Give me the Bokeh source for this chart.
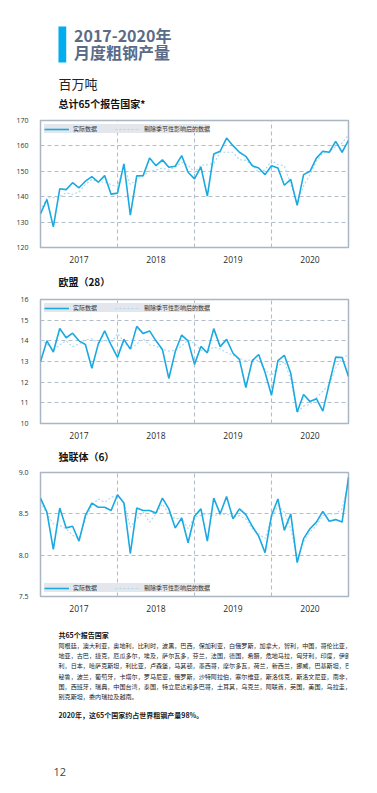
from bokeh.plotting import figure
from bokeh.models import (Range1d, FixedTicker, Label, Legend, LegendItem,
                          BoxAnnotation, PrintfTickFormatter)
from bokeh.layouts import column
from bokeh.embed import file_html
from bokeh.resources import INLINE

# ---------------- data ----------------
years = ["2017", "2018", "2019", "2020"]
legend_labels = ["实际数据", "剔除季节性影响后的数据"]

total_actual = [133.3, 138.9, 128.1, 143.1, 142.8, 145.5, 143.5, 146.1, 147.9, 145.7,
                148.3, 141.0, 141.4, 152.9, 132.7, 148.2, 148.3, 155.2, 152.2, 154.5,
                151.6, 152.0, 156.2, 149.6, 147.0, 151.7, 140.2, 156.8, 157.9, 163.1,
                160.1, 157.5, 155.9, 152.2, 151.3, 148.7, 152.2, 151.3, 144.5, 146.8,
                136.6, 148.7, 150.0, 155.2, 157.9, 157.5, 161.8, 157.5, 162.2]
total_sa = [134.5, 139.6, 139.6, 140.2, 141.5, 141.0, 141.8, 144.8, 146.8, 145.8,
            145.8, 144.7, 144.0, 152.0, 144.8, 146.9, 148.2, 150.0, 150.5, 151.3,
            150.5, 151.6, 153.5, 152.5, 149.5, 152.3, 152.6, 153.0, 157.5, 157.5,
            157.5, 154.6, 154.3, 152.4, 149.6, 150.6, 154.2, 152.6, 152.2, 144.8,
            137.6, 144.2, 148.7, 154.0, 157.2, 157.6, 159.8, 161.1, 164.4]

eu_actual = [13.0, 14.0, 13.46, 14.6, 14.15, 14.37, 14.0, 13.82, 12.67, 13.84,
             14.48, 13.8, 13.2, 14.07, 13.6, 14.7, 14.35, 14.48, 14.0, 13.58,
             12.18, 13.48, 14.28, 14.0, 12.86, 13.73, 13.42, 14.59, 13.72, 14.07,
             13.4, 13.1, 11.74, 13.04, 13.34, 12.47, 11.37, 13.04, 13.3, 12.43,
             10.56, 11.4, 11.06, 11.2, 10.6, 11.93, 13.21, 13.19, 12.28]
eu_sa = [14.04, 13.85, 13.58, 13.8, 14.0, 13.72, 13.85, 14.04, 14.1, 13.9,
         14.04, 13.88, 14.36, 13.95, 13.6, 13.85, 14.1, 13.8, 13.75, 13.6,
         13.5, 13.55, 13.75, 14.04, 13.87, 13.55, 13.48, 13.7, 13.6, 13.43,
         13.3, 13.15, 13.05, 13.08, 13.05, 12.6, 12.3, 12.76, 13.0, 12.12,
         10.52, 10.84, 10.92, 11.25, 11.56, 11.88, 12.68, 13.16, 13.32]

cis_actual = [8.69, 8.52, 8.07, 8.57, 8.33, 8.35, 8.17, 8.48, 8.63, 8.58,
              8.58, 8.54, 8.73, 8.63, 8.02, 8.57, 8.54, 8.54, 8.51, 8.69,
              8.56, 8.33, 8.45, 8.15, 8.47, 8.56, 8.17, 8.69, 8.5, 8.71,
              8.44, 8.56, 8.49, 8.35, 8.23, 8.03, 8.48, 8.68, 8.3, 8.5,
              7.91, 8.2, 8.32, 8.4, 8.53, 8.41, 8.43, 8.4, 8.94]
cis_sa = [8.64, 8.5, 8.38, 8.36, 8.32, 8.24, 8.2, 8.44, 8.6, 8.68,
          8.64, 8.7, 8.72, 8.64, 8.34, 8.44, 8.52, 8.4, 8.5, 8.62,
          8.5, 8.44, 8.45, 8.32, 8.46, 8.48, 8.5, 8.48, 8.49, 8.5,
          8.46, 8.48, 8.44, 8.32, 8.26, 8.2, 8.44, 8.6, 8.52, 8.32,
          7.96, 8.16, 8.28, 8.36, 8.48, 8.5, 8.5, 8.56, 8.88]

# ---------------- style ----------------
W = 377
CJK = "Noto Sans CJK SC"
NUM = "Open Sans"
AC_C = "#1aa9e1"
SA_C = "#a9d8f1"
GRID_C = "#b3bdca"
TITLE_C = "#5b6b87"


def text_fig(height):
    p = figure(width=W, height=height, x_range=Range1d(0, W), y_range=Range1d(height, 0),
               output_backend="svg", toolbar_location=None,
               x_axis_location=None, y_axis_location=None, min_border=0)
    p.grid.visible = False
    p.outline_line_color = None
    return p


def lab(p, x, y, text, size, bold=False, color="#222222", font=CJK):
    p.add_layout(Label(x=x, y=y, text=text, text_font=font, text_font_size=size,
                       text_font_style="bold" if bold else "normal",
                       text_color=color, text_baseline="middle", text_align="left"))


def chart(actual, sa, y0, y1, step, fmt, loc, height, top, bottom):
    n = len(actual)
    x = list(range(n))
    p = figure(width=W, height=height, x_range=Range1d(0, n - 1), y_range=Range1d(y0, y1),
               output_backend="svg", toolbar_location=None,
               min_border_left=40, min_border_right=29,
               min_border_top=top, min_border_bottom=bottom)
    r_sa = p.line(x, sa, line_color=SA_C, line_width=1.1, line_dash="2 2")
    r_ac = p.line(x, actual, line_color=AC_C, line_width=1.6)

    p.outline_line_color = "#aab6c4"
    p.outline_line_width = 1.5

    yt = []
    v = y0
    while v <= y1 + 1e-9:
        yt.append(round(v, 2))
        v += step
    p.yaxis.ticker = FixedTicker(ticks=yt)
    p.yaxis.formatter = PrintfTickFormatter(format=fmt)
    p.yaxis.axis_line_color = None
    p.yaxis.major_tick_line_color = None
    p.yaxis.minor_tick_line_color = None
    p.yaxis.major_label_standoff = 6
    p.yaxis.major_label_text_font = NUM
    p.yaxis.major_label_text_font_size = "7px"
    p.yaxis.major_label_text_color = "#333333"

    centers = [12 * k + 6 for k in range(len(years))]
    p.xaxis.ticker = FixedTicker(ticks=centers)
    p.xaxis.major_label_overrides = {c: y for c, y in zip(centers, years)}
    p.xaxis.axis_line_color = None
    p.xaxis.major_tick_line_color = None
    p.xaxis.minor_tick_line_color = None
    p.xaxis.major_label_standoff = 2
    p.xaxis.major_label_text_font = NUM
    p.xaxis.major_label_text_font_size = "8.5px"
    p.xaxis.major_label_text_color = "#2a2a2a"

    p.xgrid.ticker = FixedTicker(ticks=[12 * k for k in range(1, len(years))])
    for g in (p.xgrid, p.ygrid):
        g.grid_line_color = GRID_C
        g.grid_line_dash = "4 3"
        g.grid_line_width = 1.1

    leg = Legend(items=[LegendItem(label=legend_labels[0], renderers=[r_ac]),
                        LegendItem(label=legend_labels[1], renderers=[r_sa])],
                 location=loc, orientation="horizontal", margin=4, padding=2,
                 spacing=18, glyph_width=25, glyph_height=8, label_height=8,
                 label_standoff=4, label_text_font=CJK, label_text_font_size="6px",
                 label_text_color="#333333", background_fill_color="#e3e7ec",
                 background_fill_alpha=1.0, border_line_color=None)
    p.add_layout(leg)
    return p


# ---------------- header ----------------
h0 = text_fig(112)
h0.add_layout(BoxAnnotation(left=22, right=31.5, top=26, bottom=62,
                            fill_color="#00aeef", fill_alpha=1.0, line_color=None))
lab(h0, 41, 34.5, "2017-2020年", "16px", True, TITLE_C)
lab(h0, 41, 51.3, "月度粗钢产量", "16px", True, TITLE_C)
lab(h0, 22, 83, "百万吨", "13px", False, "#222222")
lab(h0, 22, 102.5, "总计65个报告国家*", "10px", True, "#111111")

c1 = chart(total_actual, total_sa, 120, 170, 10, "%d", "top_left", 153, 8, 17)

h1 = text_fig(25)
lab(h1, 22, 16, "欧盟（28）", "10px", True, "#111111")

c2 = chart(eu_actual, eu_sa, 10, 16, 1, "%d", "top_left", 151, 9, 17)

h2 = text_fig(22)
lab(h2, 22, 15, "独联体（6）", "10px", True, "#111111")

c3 = chart(cis_actual, cis_sa, 7.5, 9.0, 0.5, "%.1f", "bottom_left", 151, 9, 17)

# ---------------- footer ----------------
footer_lines = [
    "阿根廷，澳大利亚，奥地利，比利时，波黑，巴西，保加利亚，白俄罗斯，加拿大，智利，中国，哥伦比亚，克罗",
    "地亚，古巴，捷克，厄瓜多尔，埃及，萨尔瓦多，芬兰，法国，德国，希腊，危地马拉，匈牙利，印度，伊朗，意大",
    "利，日本，哈萨克斯坦，利比亚，卢森堡，马其顿，墨西哥，摩尔多瓦，荷兰，新西兰，挪威，巴基斯坦，巴拉圭，",
    "秘鲁，波兰，葡萄牙，卡塔尔，罗马尼亚，俄罗斯，沙特阿拉伯，塞尔维亚，斯洛伐克，斯洛文尼亚，南非，韩",
    "国，西班牙，瑞典，中国台湾，泰国，特立尼达和多巴哥，土耳其，乌克兰，阿联酋，英国，美国，乌拉圭，　乌兹",
    "别克斯坦，委内瑞拉及越南。",
]
h3 = text_fig(179)
lab(h3, 22, 20, "共65个报告国家", "7px", True, "#111111")
for i, line in enumerate(footer_lines):
    lab(h3, 22, 31 + 10.2 * i, line, "6.1px", False, "#1a1a1a")
lab(h3, 22, 100, "2020年，这65个国家约占世界粗钢产量98%。", "7px", True, "#1a1a1a")
lab(h3, 16, 157, "12", "11px", False, "#444444", NUM)

layout = column(h0, c1, h1, c2, h2, c3, h3, spacing=0)
open("out.html", "w").write(file_html(layout, INLINE))
